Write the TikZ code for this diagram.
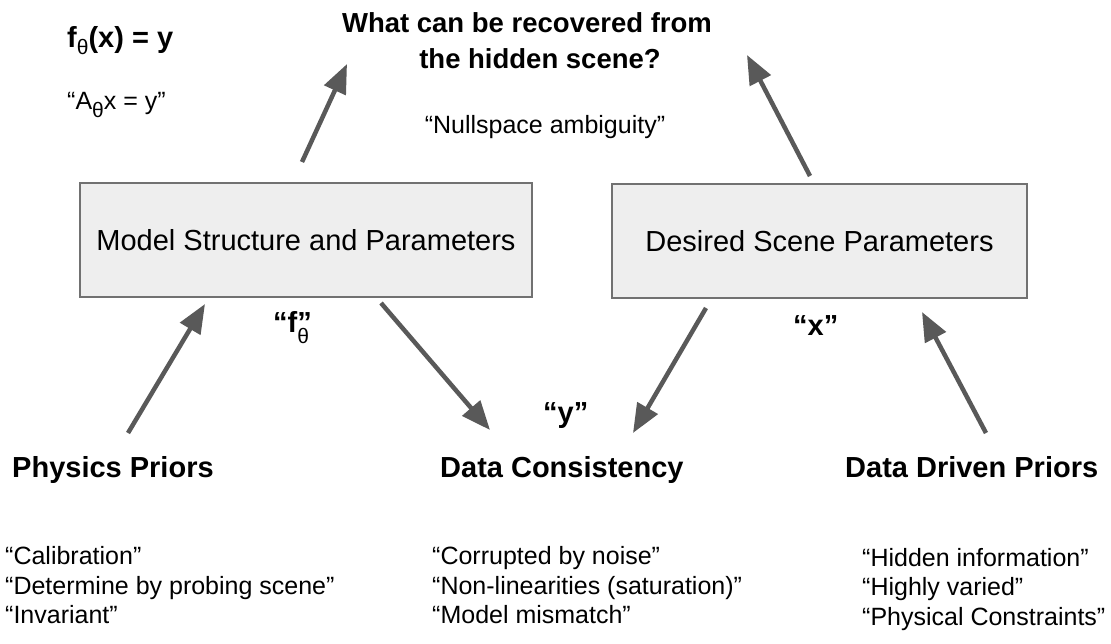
\documentclass[tikz,border=0pt]{standalone}
\usepackage{fontspec}
\setmainfont{Liberation Sans}
\usetikzlibrary{arrows.meta}
\definecolor{arr}{HTML}{595959}
\definecolor{boxfill}{HTML}{EEEEEE}
\definecolor{boxline}{HTML}{717171}
\newcommand{\subth}[1]{\raisebox{-#1pt}{\fontsize{21}{21}\selectfont\mdseries θ}}
\begin{document}
\begin{tikzpicture}[x=1pt,y=-1pt,
  big/.style={font=\fontsize{29}{34}\selectfont\bfseries, inner sep=0pt},
  ttl/.style={font=\fontsize{27.5}{34}\selectfont\bfseries, inner sep=0pt},
  txt/.style={font=\fontsize{25}{29.5}\selectfont, inner sep=0pt},
  box/.style={draw=boxline, line width=2pt, fill=boxfill, minimum height=114pt, inner sep=0pt, font=\fontsize{29}{34}\selectfont},
  arrow/.style={draw=arr, line width=4.5pt, -{Triangle[length=29pt,width=23pt]}}]
\useasboundingbox (0,0) rectangle (1111,644);

% title and formulas
\node[ttl, anchor=base] (t1) at (527,33) {What can be recovered from};
\node[ttl, anchor=base] (t2) at (540,69) {the hidden scene?};
\node[big, anchor=base west] (feq) at (67,48) {f\subth{7}(x) = y};
\node[txt, anchor=base west] (aeq) at (67,110) {“A\subth{8}x = y”};
\node[txt, anchor=base] (null) at (545,134) {“Nullspace ambiguity”};

% boxes
\node[box, minimum width=452pt] (model) at (306,240) {Model Structure and Parameters};
\node[box, minimum width=415pt] (scene) at (819.5,241) {Desired Scene Parameters};

% small labels
\node[big, anchor=base west] (flab) at (273,333) {“f\rlap{\subth{10}}”};
\node[big, anchor=base west] (xlab) at (793,335) {“x”};
\node[big, anchor=base west] (ylab) at (543,422) {“y”};

% headings
\node[big, anchor=base west] (phys) at (12,477) {Physics Priors};
\node[big, anchor=base west] (cons) at (440,477) {Data Consistency};
\node[big, anchor=base west] (ddp) at (845,477) {Data Driven Priors};

% bottom texts
\node[txt, anchor=base west] (p1) at (5,564) {“Calibration”};
\node[txt, anchor=base west] (p2) at (5,594) {“Determine by probing scene”};
\node[txt, anchor=base west] (p3) at (5,623) {“Invariant”};
\node[txt, anchor=base west] (c1) at (432,564) {“Corrupted by noise”};
\node[txt, anchor=base west] (c2) at (432,594) {“Non-linearities (saturation)”};
\node[txt, anchor=base west] (c3) at (432,623) {“Model mismatch”};
\node[txt, anchor=base west] (d1) at (862,566) {“Hidden information”};
\node[txt, anchor=base west] (d2) at (862,595) {“Highly varied”};
\node[txt, anchor=base west] (d3) at (862,625) {“Physical Constraints”};

% arrow end points
\coordinate (a1s) at (302,162); \coordinate (a1e) at (347,64);
\coordinate (a2s) at (810,176); \coordinate (a2e) at (747,55);
\coordinate (a3s) at (128,433); \coordinate (a3e) at (205,304);
\coordinate (a4s) at (381,303); \coordinate (a4e) at (490,430);
\coordinate (a5s) at (706,308); \coordinate (a5e) at (633,433);
\coordinate (a6s) at (986,433); \coordinate (a6e) at (922,312);

\draw[arrow] (a1s) -- (a1e);
\draw[arrow] (a2s) -- (a2e);
\draw[arrow] (a3s) -- (a3e);
\draw[arrow] (a4s) -- (a4e);
\draw[arrow] (a5s) -- (a5e);
\draw[arrow] (a6s) -- (a6e);
\end{tikzpicture}
\end{document}
